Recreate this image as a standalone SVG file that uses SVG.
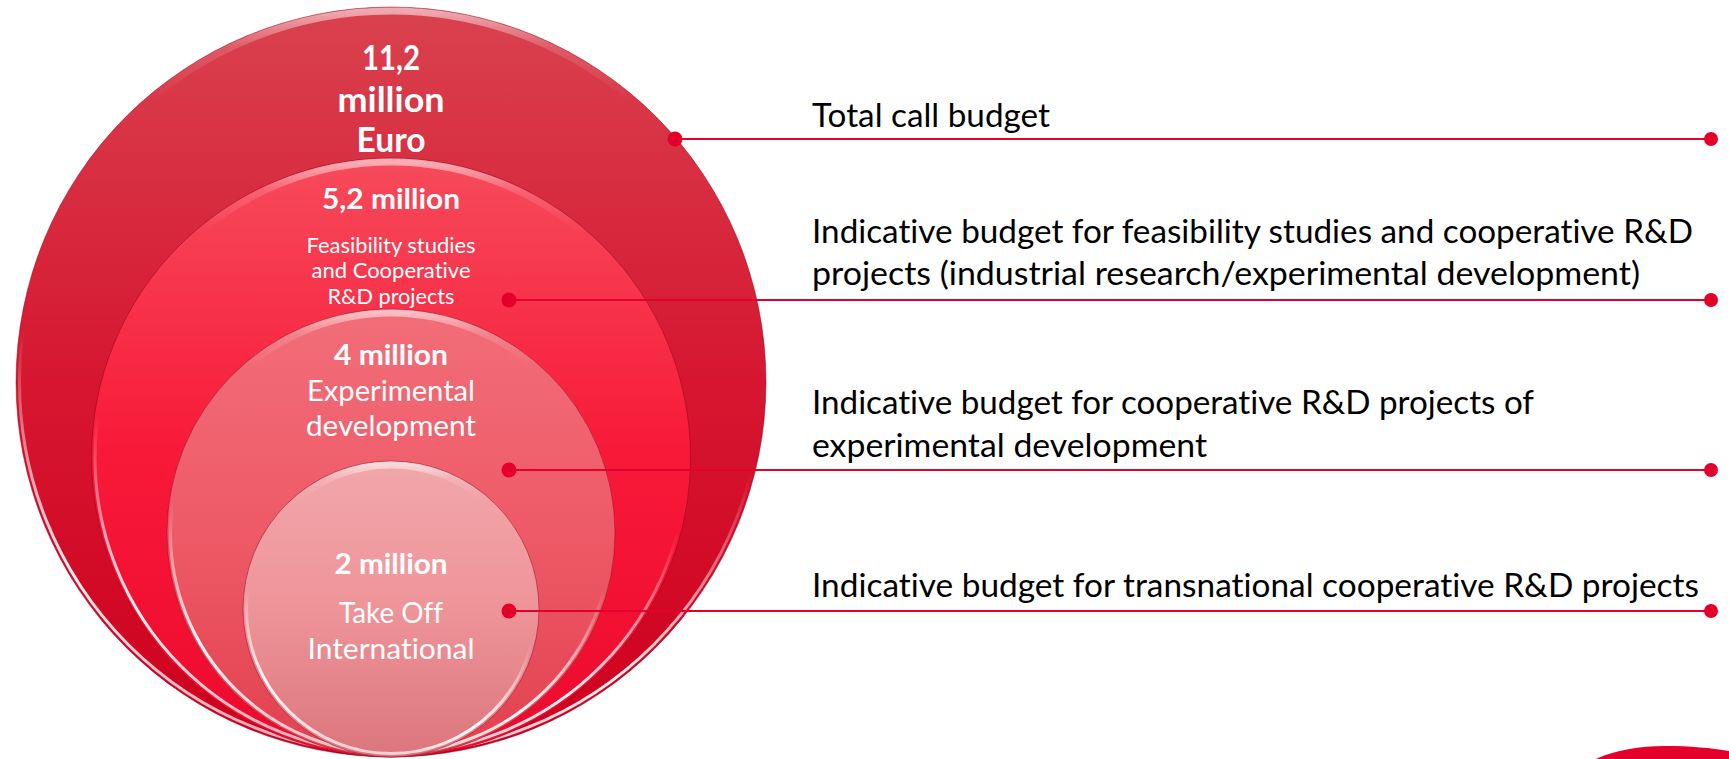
<svg xmlns="http://www.w3.org/2000/svg" width="1729" height="759" viewBox="0 0 1729 759">
  <defs>
    <linearGradient id="f1" x1="0" y1="0" x2="0" y2="1">
      <stop offset="0" stop-color="#D9424F"/>
      <stop offset="0.5" stop-color="#D61630"/>
      <stop offset="1" stop-color="#CE001E"/>
    </linearGradient>
    <linearGradient id="f2" x1="0" y1="0" x2="0" y2="1">
      <stop offset="0" stop-color="#F64B5B"/>
      <stop offset="0.5" stop-color="#F81838"/>
      <stop offset="1" stop-color="#EC0A2E"/>
    </linearGradient>
    <linearGradient id="f3" x1="0" y1="0" x2="0" y2="1">
      <stop offset="0" stop-color="#F16E79"/>
      <stop offset="0.5" stop-color="#EE5A67"/>
      <stop offset="1" stop-color="#E2404F"/>
    </linearGradient>
    <linearGradient id="f4" x1="0" y1="0" x2="0" y2="1">
      <stop offset="0" stop-color="#F1A7AA"/>
      <stop offset="0.5" stop-color="#EE9499"/>
      <stop offset="1" stop-color="#DB767D"/>
    </linearGradient>
    <linearGradient id="rim" x1="0.2" y1="0" x2="0" y2="1">
      <stop offset="0" stop-color="#fff" stop-opacity="0"/>
      <stop offset="0.45" stop-color="#fff" stop-opacity="0"/>
      <stop offset="0.75" stop-color="#fff" stop-opacity="0.95"/>
      <stop offset="0.95" stop-color="#fff" stop-opacity="0.6"/>
      <stop offset="1" stop-color="#fff" stop-opacity="0"/>
    </linearGradient>
    <linearGradient id="glow" x1="0" y1="0" x2="0" y2="1">
      <stop offset="0" stop-color="#fff" stop-opacity="0.55"/>
      <stop offset="0.05" stop-color="#fff" stop-opacity="0.15"/>
      <stop offset="0.12" stop-color="#fff" stop-opacity="0"/>
    </linearGradient>
  </defs>
  <style>
    .edge { fill: none; stroke: #8A0018; stroke-opacity: 0.45; stroke-width: 1; }
    .rim { fill: none; stroke: url(#rim); stroke-width: 3; }
    .glow { fill: none; stroke: url(#glow); stroke-width: 7; }
    text { font-variant-ligatures: none; font-feature-settings: "liga" 0, "clig" 0, "dlig" 0; }
    .ct { font-family: Lato, "Open Sans", sans-serif; fill: #fff; text-anchor: middle; }
    .b { font-weight: bold; }
    .lbl { font-family: Lato, "Open Sans", sans-serif; font-size: 33px; fill: #000; }
    .conn { stroke: #E4002B; stroke-width: 1.8; fill: none; }
    .dot { fill: #E4002B; }
  </style>

  <g id="node-total">
    <circle cx="391" cy="382" r="375" fill="url(#f1)"/>
    <circle cx="391" cy="382" r="375" class="edge"/>
    <circle cx="391" cy="382" r="371.5" class="rim"/>
    <circle cx="391" cy="382" r="371" class="glow"/>
    <text class="ct b" x="391" y="70" font-size="33.5" textLength="58" lengthAdjust="spacingAndGlyphs">11,2</text>
    <text class="ct b" x="391" y="112" font-size="33.5" textLength="107" lengthAdjust="spacingAndGlyphs">million</text>
    <text class="ct b" x="391" y="152" font-size="33.5" textLength="69" lengthAdjust="spacingAndGlyphs">Euro</text>
  </g>

  <g id="node-feasibility">
    <circle cx="391" cy="457.5" r="299.5" fill="url(#f2)"/>
    <circle cx="391" cy="457.5" r="299.5" class="edge"/>
    <circle cx="391" cy="457.5" r="296" class="rim"/>
    <circle cx="391" cy="457.5" r="295.5" class="glow"/>
    <text class="ct b" x="391" y="209" font-size="29" textLength="138" lengthAdjust="spacingAndGlyphs">5,2 million</text>
    <text class="ct" x="391" y="253" font-size="21.5" textLength="169" lengthAdjust="spacingAndGlyphs">Feasibility studies</text>
    <text class="ct" x="391" y="278" font-size="21.5" textLength="159" lengthAdjust="spacingAndGlyphs">and Cooperative</text>
    <text class="ct" x="391" y="304" font-size="21.5" textLength="127" lengthAdjust="spacingAndGlyphs">R&amp;D projects</text>
  </g>

  <g id="node-experimental">
    <circle cx="391" cy="533" r="224" fill="url(#f3)"/>
    <circle cx="391" cy="533" r="224" class="edge"/>
    <circle cx="391" cy="533" r="220.5" class="rim"/>
    <circle cx="391" cy="533" r="220" class="glow"/>
    <text class="ct b" x="391" y="365" font-size="29" textLength="114" lengthAdjust="spacingAndGlyphs">4 million</text>
    <text class="ct" x="391" y="401" font-size="28.5" textLength="168" lengthAdjust="spacingAndGlyphs">Experimental</text>
    <text class="ct" x="391" y="436" font-size="28.5" textLength="170" lengthAdjust="spacingAndGlyphs">development</text>
  </g>

  <g id="node-takeoff">
    <circle cx="391" cy="609" r="148" fill="url(#f4)"/>
    <circle cx="391" cy="609" r="148" class="edge"/>
    <circle cx="391" cy="609" r="144.5" class="rim"/>
    <circle cx="391" cy="609" r="144" class="glow"/>
    <text class="ct b" x="391" y="574" font-size="29" textLength="113" lengthAdjust="spacingAndGlyphs">2 million</text>
    <text class="ct" x="391" y="623" font-size="28.5" textLength="104" lengthAdjust="spacingAndGlyphs">Take Off</text>
    <text class="ct" x="391" y="659" font-size="28.5" textLength="167" lengthAdjust="spacingAndGlyphs">International</text>
  </g>

  <g id="connectors">
    <line class="conn" x1="675" y1="139" x2="1711" y2="139"/>
    <circle class="dot" cx="675" cy="139" r="7.5"/>
    <circle class="dot" cx="1711" cy="139" r="7"/>
    <line class="conn" x1="509" y1="300" x2="1711" y2="300"/>
    <circle class="dot" cx="509" cy="300" r="7.5"/>
    <circle class="dot" cx="1711" cy="300" r="7"/>
    <line class="conn" x1="509" y1="470" x2="1711" y2="470"/>
    <circle class="dot" cx="509" cy="470" r="7.5"/>
    <circle class="dot" cx="1711" cy="470" r="7"/>
    <line class="conn" x1="509" y1="611" x2="1711" y2="611"/>
    <circle class="dot" cx="509" cy="611" r="7.5"/>
    <circle class="dot" cx="1711" cy="611" r="7"/>
  </g>

  <g id="label-total">
    <text class="lbl" x="812" y="127" textLength="238" lengthAdjust="spacingAndGlyphs">Total call budget</text>
  </g>
  <g id="label-feasibility">
    <text class="lbl" x="812" y="243" textLength="881" lengthAdjust="spacingAndGlyphs">Indicative budget for feasibility studies and cooperative R&amp;D</text>
    <text class="lbl" x="812" y="285" textLength="828" lengthAdjust="spacingAndGlyphs">projects (industrial research/experimental development)</text>
  </g>
  <g id="label-experimental">
    <text class="lbl" x="812" y="414" textLength="722" lengthAdjust="spacingAndGlyphs">Indicative budget for cooperative R&amp;D projects of</text>
    <text class="lbl" x="812" y="457" textLength="395" lengthAdjust="spacingAndGlyphs">experimental development</text>
  </g>
  <g id="label-takeoff">
    <text class="lbl" x="812" y="597" textLength="887" lengthAdjust="spacingAndGlyphs">Indicative budget for transnational cooperative R&amp;D projects</text>
  </g>

  <g id="corner-decoration">
    <path d="M1596,759 C1615,750 1640,746 1665,746 C1690,746 1712,748 1729,751 L1729,759 Z" fill="#E4002B"/>
  </g>
</svg>
